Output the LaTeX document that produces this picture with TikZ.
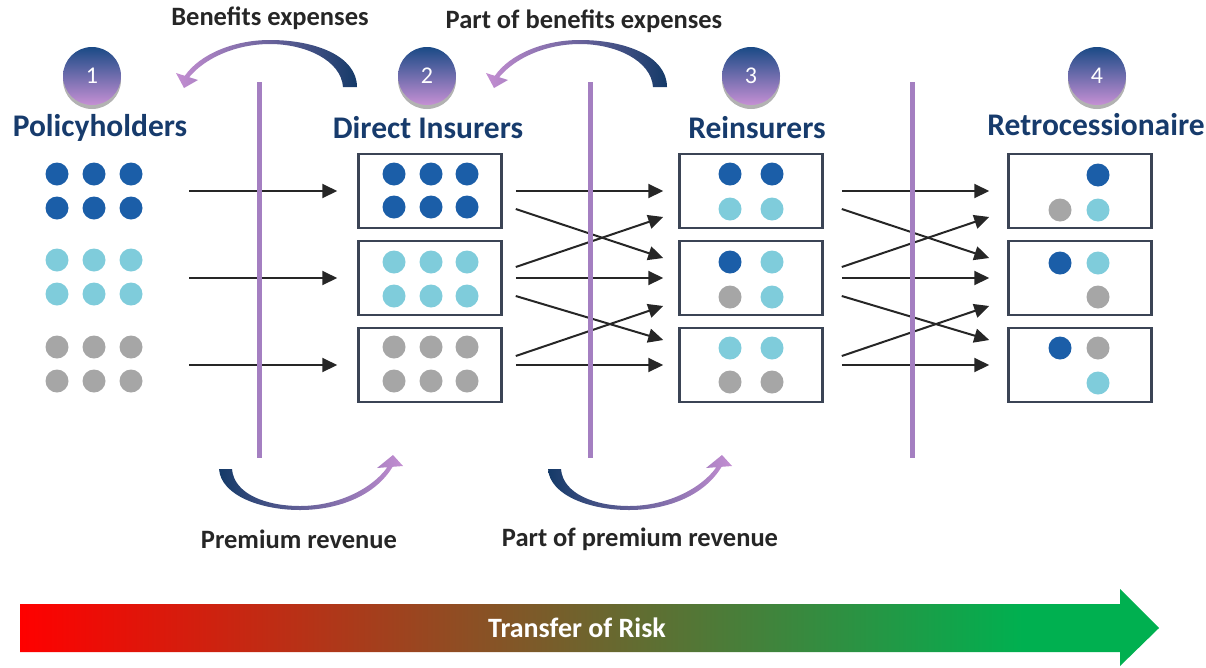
\documentclass[tikz,border=0pt]{standalone}
\usepackage{fontspec}
\setmainfont{Carlito}
\usetikzlibrary{arrows.meta,shadows,calc}

\definecolor{navydot}{HTML}{1B5EA8}
\definecolor{lightdot}{HTML}{7FCCDB}
\definecolor{graydot}{HTML}{A6A6A6}
\definecolor{boxline}{HTML}{3B4455}
\definecolor{titleblue}{HTML}{173B6C}
\definecolor{wallpurple}{HTML}{A47FC1}
\definecolor{bendnavy}{HTML}{143A68}
\definecolor{bendpurple}{HTML}{C48ED2}
\definecolor{ringtop}{HTML}{1A4A86}
\definecolor{ringbottom}{HTML}{C690D4}
\definecolor{inkgray}{HTML}{262626}
\definecolor{riskred}{HTML}{FF0000}
\definecolor{riskgreen}{HTML}{00B050}

\pgfdeclarehorizontalshading{riskfade}{100bp}{color(0bp)=(riskred); color(25bp)=(riskred);
  color(69bp)=(riskgreen); color(100bp)=(riskgreen)}

\tikzset{
  pool/.style={draw=boxline, line width=2.5pt, minimum width=143pt, minimum height=74pt, inner sep=0pt},
  flow/.style={draw=inkgray, line width=2pt, -{Triangle[length=15pt,width=14pt]}},
  wall/.style={draw=wallpurple, line width=5pt},
  badge/.style={circle, minimum size=58pt, inner sep=0pt, top color=ringtop, bottom color=ringbottom,
    text=white, font=\fontsize{24}{26}\selectfont,
    drop shadow={shadow xshift=0pt, shadow yshift=-4pt, opacity=0.3, fill=black}},
  title/.style={text=titleblue, font=\bfseries\fontsize{31.5}{36}\selectfont},
  money/.style={text=inkgray, font=\bfseries\fontsize{26.5}{30}\selectfont},
  topbend/.pic={
    \shade[left color=bendpurple, right color=bendnavy]
      (357,87) -- (343,87) .. controls (341,60) and (305,44) .. (270,44)
      .. controls (236,44) and (205,58) .. (189.2,77.2) -- (198,80) -- (184,88) -- (176,73) -- (184.8,75.8)
      .. controls (200,54) and (234,40) .. (270,40) .. controls (315,40) and (357,56) .. (357,87) -- cycle;
  },
  lowbend/.pic={
    \shade[left color=bendnavy, right color=bendpurple]
      (219,469) .. controls (221,496) and (262,510) .. (300,510)
      .. controls (338,510) and (375,496) .. (392.6,466.8) -- (403,466) -- (393,455) -- (377,468) -- (387.4,467.2)
      .. controls (371,490) and (336,506) .. (300,506) .. controls (266,506) and (234,494) .. (232,469) -- cycle;
  }
}

\begin{document}
\begin{tikzpicture}[x=1pt, y=-1pt]
  \useasboundingbox (0,0) rectangle (1206,667);

  % numbered badges and titles
  \node[badge] (n1) at (92,76) {1};
  \node[badge] (n2) at (427,76) {2};
  \node[badge] (n3) at (751,76) {3};
  \node[badge] (n4) at (1097,76) {4};
  \node[title] (ph) at (100,128) {Policyholders};
  \node[title] (di) at (428,128) {Direct Insurers};
  \node[title] (re) at (757,128) {Reinsurers};
  \node[title] (rc) at (1096,125) {Retrocessionaire};

  % money flows
  \node[money] (be) at (270,18) {Benefits expenses};
  \node[money] (pbe) at (584,21) {Part of benefits expenses};
  \node[money] (pr) at (299,539) {Premium revenue};
  \node[money] (ppr) at (640,539) {Part of premium revenue};
  \pic at (0,0) {topbend};
  \pic at (310,0) {topbend};
  \pic at (0,0) {lowbend};
  \pic at (329,0) {lowbend};

  % boxes
  \foreach \i/\y in {1/191, 2/278, 3/365} {
    \node[pool] (d\i) at (430,\y) {};
    \node[pool] (r\i) at (751,\y) {};
    \node[pool] (t\i) at (1080,\y) {};
  }

  % dots
  \foreach \c/\ya/\yb in {navydot/174/208, lightdot/260/294, graydot/347/381}
    \foreach \x in {57,94,131} {
      \fill[\c] (\x,\ya) circle (11.5pt);
      \fill[\c] (\x,\yb) circle (11.5pt);
    }
  \foreach \c/\ya/\yb in {navydot/174/207, lightdot/262/296, graydot/347/381}
    \foreach \x in {394,431,467} {
      \fill[\c] (\x,\ya) circle (11.5pt);
      \fill[\c] (\x,\yb) circle (11.5pt);
    }
  \foreach \x/\y/\c in {730/174/navydot, 772/174/navydot, 730/209/lightdot, 772/209/lightdot,
      730/262/navydot, 772/262/lightdot, 730/297/graydot, 772/297/lightdot,
      730/348/lightdot, 772/348/lightdot, 730/382/graydot, 772/382/graydot,
      1098/175/navydot, 1060/210/graydot, 1098/210/lightdot,
      1060/263/navydot, 1098/263/lightdot, 1098/297/graydot,
      1060/348/navydot, 1098/348/graydot, 1098/383/lightdot}
    \fill[\c] (\x,\y) circle (11.5pt);

  % risk flows
  \foreach \i/\y in {1/191, 2/278, 3/365} {
    \coordinate (s\i) at (189,\y);
    \draw[flow] (s\i) -- ($(d\i.west)+(-20,0)$);
  }
  \foreach \a/\b/\gs/\ge in {d/r/13/-15, r/t/18/-18} {
    \draw[flow] ($(\a1.east)+(\gs,0)$) -- ($(\b1.west)+(\ge,0)$);
    \draw[flow] ($(\a1.east)+(\gs,18)$) -- ($(\b2.west)+(\ge,-20)$);
    \draw[flow] ($(\a2.east)+(\gs,-11)$) -- ($(\b1.west)+(\ge,26)$);
    \draw[flow] ($(\a2.east)+(\gs,0)$) -- ($(\b2.west)+(\ge,0)$);
    \draw[flow] ($(\a2.east)+(\gs,18)$) -- ($(\b3.west)+(\ge,-25)$);
    \draw[flow] ($(\a3.east)+(\gs,-9)$) -- ($(\b2.west)+(\ge,28)$);
    \draw[flow] ($(\a3.east)+(\gs,0)$) -- ($(\b3.west)+(\ge,0)$);
  }

  % walls
  \foreach \x in {259, 590, 912}
    \draw[wall] (\x,82) -- (\x,458);

  % transfer of risk
  \shade[shading=riskfade]
    (20,604) -- (1120,604) -- (1120,589) -- (1159,628) -- (1120,666) -- (1120,652) -- (20,652) -- cycle;
  \node[text=white, font=\bfseries\fontsize{28}{32}\selectfont] (risk) at (577,628) {Transfer of Risk};
\end{tikzpicture}
\end{document}
